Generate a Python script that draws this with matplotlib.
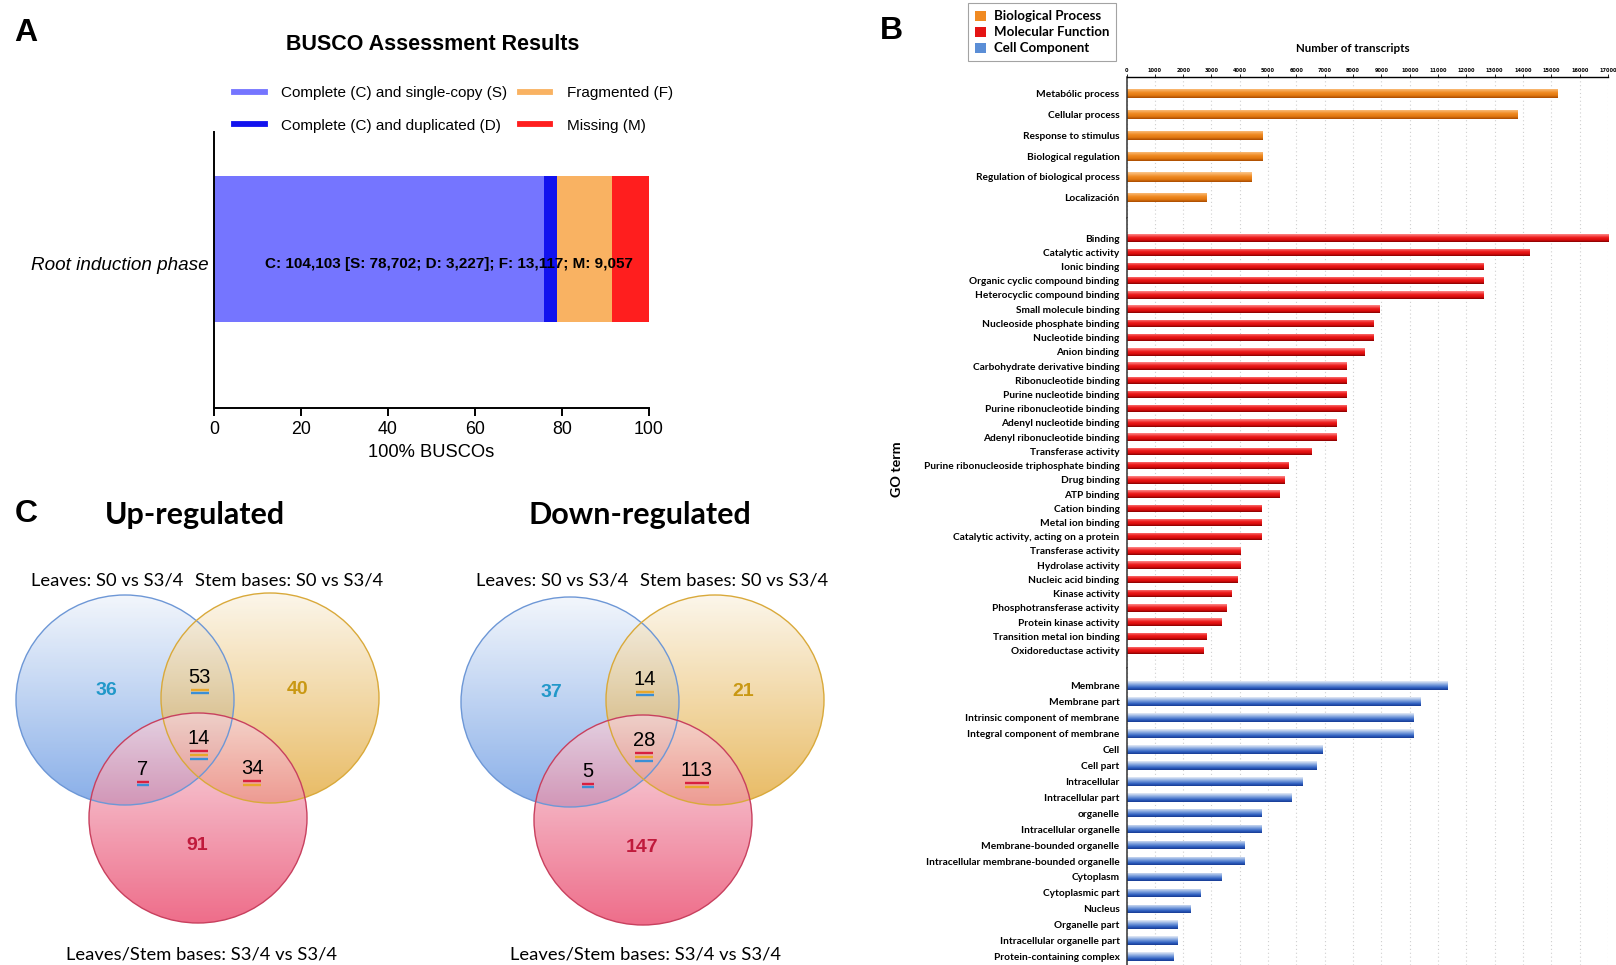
import numpy as np
import matplotlib
matplotlib.use("Agg")
import matplotlib.pyplot as plt
from matplotlib.patches import Ellipse, Patch
from matplotlib.lines import Line2D
from matplotlib import font_manager as fm
from matplotlib.colors import LinearSegmentedColormap, to_rgba

# ------------------------------------------------------------------ data
busco_category = "Root induction phase"
busco_labels = ["Complete (C) and single-copy (S)", "Complete (C) and duplicated (D)",
                "Fragmented (F)", "Missing (M)"]
busco_pct = [75.8, 3.0, 12.7, 8.5]
busco_colors = ["#7575FF", "#1212EE", "#F9B262", "#FF1E1E"]
busco_summary = "C: 104,103 [S: 78,702; D: 3,227]; F: 13,117; M: 9,057"
busco_ticks = [0, 20, 40, 60, 80, 100]

bp_terms = ["Metabólic process", "Cellular process", "Response to stimulus",
            "Biological regulation", "Regulation of biological process", "Localización"]
bp_counts = [15200, 13800, 4800, 4800, 4400, 2800]

mf_terms = ["Binding", "Catalytic activity", "Ionic binding", "Organic cyclic compound binding",
            "Heterocyclic compound binding", "Small molecule binding",
            "Nucleoside phosphate binding", "Nucleotide binding", "Anion binding",
            "Carbohydrate derivative binding", "Ribonucleotide binding",
            "Purine nucleotide binding", "Purine ribonucleotide binding",
            "Adenyl nucleotide binding", "Adenyl ribonucleotide binding", "Transferase activity",
            "Purine ribonucleoside triphosphate binding", "Drug binding", "ATP binding",
            "Cation binding", "Metal ion binding", "Catalytic activity, acting on a protein",
            "Transferase activity", "Hydrolase activity", "Nucleic acid binding",
            "Kinase activity", "Phosphotransferase activity", "Protein kinase activity",
            "Transition metal ion binding", "Oxidoreductase activity"]
mf_counts = [17000, 14200, 12600, 12600, 12600, 8900, 8700, 8700, 8400, 7750, 7750, 7750,
             7750, 7400, 7400, 6500, 5700, 5550, 5400, 4750, 4750, 4750, 4000, 4000, 3900,
             3700, 3500, 3350, 2800, 2700]

cc_terms = ["Membrane", "Membrane part", "Intrinsic component of membrane",
            "Integral component of membrane", "Cell", "Cell part", "Intracellular",
            "Intracellular part", "organelle", "Intracellular organelle",
            "Membrane-bounded organelle", "Intracellular membrane-bounded organelle",
            "Cytoplasm", "Cytoplasmic part", "Nucleus", "Organelle part",
            "Intracellular organelle part", "Protein-containing complex"]
cc_counts = [11300, 10350, 10100, 10100, 6900, 6700, 6200, 5800, 4750, 4750, 4150, 4150,
             3350, 2600, 2250, 1800, 1800, 1650]

go_groups = ["Biological Process", "Molecular Function", "Cell Component"]
go_colors = ["#F08A22", "#E41414", "#5B8ED6"]
go_ticks = list(range(0, 17001, 1000))

venn_titles = ["Up-regulated", "Down-regulated"]
venn_sets = ["Leaves: S0 vs S3/4", "Stem bases: S0 vs S3/4", "Leaves/Stem bases: S3/4 vs S3/4"]
venn_regions = ["L", "S", "B", "LS", "LB", "SB", "LSB"]
up_values = [36, 40, 91, 53, 7, 34, 14]
down_values = [37, 21, 147, 14, 5, 113, 28]

# ------------------------------------------------------------------ fonts
names = {f.name for f in fm.fontManager.ttflist}
def pick(*c):
    for n in c:
        if n in names:
            return n
    return "DejaVu Sans"
ARIAL = pick("Liberation Sans", "Arial")
NARROW = pick("Liberation Sans Narrow", "Liberation Sans")
HUMAN = pick("Lato", "Open Sans")

W, H = 1616, 965
fig = plt.figure(figsize=(W / 100, H / 100), dpi=100)

def rect(l, t, r, b):
    return [l / W, 1 - b / H, (r - l) / W, (b - t) / H]

# ------------------------------------------------------------------ panel A
axA = fig.add_axes(rect(214, 132, 649, 408))
left = 0
for lab, v, c in zip(busco_labels, busco_pct, busco_colors):
    axA.barh(0.576, v, height=0.526, left=left, color=c, label=lab, linewidth=0)
    left += v
axA.set_xlim(0, 100)
axA.set_ylim(0, 1)
axA.set_xticks(busco_ticks)
axA.set_yticks([0.522])
axA.set_yticklabels([busco_category], fontstyle="italic", fontsize=13.6, family=ARIAL)
axA.tick_params(axis="y", length=0, pad=4)
axA.tick_params(axis="x", length=6, width=1.4, labelsize=12.8, pad=3)
for t in axA.get_xticklabels():
    t.set_family(ARIAL)
for s in ["top", "right"]:
    axA.spines[s].set_visible(False)
for s in ["left", "bottom"]:
    axA.spines[s].set_linewidth(1.4)
axA.set_xlabel("100% BUSCOs", fontsize=13.2, family=ARIAL, labelpad=5)
axA.text(53.9, 0.522, busco_summary, ha="center", va="center", fontsize=11,
         fontweight="bold", family=ARIAL)
hA = [Line2D([0], [0], color=c, lw=4.2) for c in busco_colors]
axA.legend(hA, busco_labels, ncol=2, loc="upper left", bbox_to_anchor=(234 / W, 1 - 86 / H),
           bbox_transform=fig.transFigure, frameon=False, borderpad=0, borderaxespad=0,
           handlelength=2.0, handletextpad=1.08, columnspacing=0.82, labelspacing=1.22,
           prop={"family": ARIAL, "size": 11})
fig.text(433 / W, 1 - 44 / H, "BUSCO Assessment Results", ha="center", va="center",
         fontsize=15.5, fontweight="bold", family=ARIAL)

# ------------------------------------------------------------------ panel B
def grad(stops, n=64):
    cmap = LinearSegmentedColormap.from_list("g", stops)
    return cmap(np.linspace(0, 1, n))[:, None, :]

bp_stops = [(0, "#FCC88E"), (0.45, "#F08A22"), (0.75, "#E07710"), (1, "#A84A00")]
mf_stops = [(0, "#FF8A8A"), (0.45, "#EC1A1A"), (0.75, "#D80C0C"), (1, "#820000")]
cc_stops = [(0, "#E6ECF7"), (0.4, "#7FA2DE"), (0.75, "#2E5FC0"), (1, "#163A92")]

xl, xr = 1126.5, 1608
specs = [
    (bp_terms, bp_counts, bp_stops, go_colors[0], 0.44, 0.79, 0.97, 77.3, 218),
    (mf_terms, mf_counts, mf_stops, go_colors[1], 0.52, 1.41, 1.23, 218, 668),
    (cc_terms, cc_counts, cc_stops, go_colors[2], 0.54, 1.10, 0.52, 668, 965),
]
axesB = []
for terms, counts, stops, col, bh, tpad, bpad, top, bot in specs:
    ax = fig.add_axes(rect(xl, top, xr, bot))
    ypos = np.arange(len(terms))
    bars = ax.barh(ypos, counts, height=bh, color=col, linewidth=0)
    img = grad(stops)
    for b in bars:
        x0, y0, w, h = b.get_x(), b.get_y(), b.get_width(), b.get_height()
        im = ax.imshow(img, extent=(x0, x0 + w, y0 + h, y0), origin="upper",
                       aspect="auto", interpolation="bilinear", zorder=2)
        im.set_clip_path(b)
    ax.set_xlim(0, 17000)
    ax.set_ylim(len(terms) - 1 + bpad, -tpad)
    ax.set_yticks(ypos)
    ax.set_yticklabels(terms, fontsize=7.3, fontweight="bold", family=HUMAN)
    ax.tick_params(axis="y", length=0, pad=5)
    ax.set_xticks(go_ticks)
    ax.grid(axis="x", linestyle=(0, (1, 2.5)), color="#CFCFCF", linewidth=0.8)
    ax.set_axisbelow(True)
    for s in ["right", "bottom", "top"]:
        ax.spines[s].set_visible(False)
    ax.spines["left"].set_linewidth(1.1)
    ax.spines["left"].set_color("#333333")
    ax.tick_params(axis="x", bottom=False, labelbottom=False)
    axesB.append(ax)

ax_bp = axesB[0]
ax_bp.spines["top"].set_visible(True)
ax_bp.spines["top"].set_linewidth(1.0)
ax_bp.xaxis.set_ticks_position("top")
ax_bp.xaxis.set_label_position("top")
ax_bp.tick_params(axis="x", top=True, labeltop=True, length=2, width=0.6, labelsize=3.6, pad=1)
for t in ax_bp.get_xticklabels():
    t.set_fontweight("bold")
ax_bp.set_xlabel("Number of transcripts", fontsize=8.3, fontweight="bold", family=HUMAN,
                 labelpad=4)
ax_bp.xaxis.set_label_coords((1353 - xl) / (xr - xl), (218 - 52.5) / (218 - 77.3))
axesB[1].set_ylabel("GO term", fontsize=10.3, fontweight="bold", family=HUMAN)
axesB[1].yaxis.set_label_coords((903 - xl) / (xr - xl), (668 - 469) / (668 - 218))

hB = [Patch(facecolor=c, edgecolor="none") for c in go_colors]
legB = ax_bp.legend(hB, go_groups, loc="upper left", bbox_to_anchor=(968 / W, 1 - 3 / H),
                    bbox_transform=fig.transFigure, fancybox=False, edgecolor="#8C8C8C",
                    borderaxespad=0, borderpad=0.55, handlelength=0.8, handleheight=0.8,
                    handletextpad=0.6, labelspacing=0.3,
                    prop={"family": HUMAN, "size": 9.5, "weight": "bold"})
legB.get_frame().set_linewidth(0.8)

# ------------------------------------------------------------------ overlay (panel labels, panel C)
ov = fig.add_axes([0, 0, 1, 1])
ov.set_xlim(0, W)
ov.set_ylim(H, 0)
ov.axis("off")
ov.patch.set_alpha(0)

for lab, (x, y) in zip(["A", "B", "C"], [(26, 33), (891, 31), (26, 514)]):
    ov.text(x, y, lab, ha="center", va="center", fontsize=23, fontweight="bold", family=ARIAL)

def vgrad(top, bottom, alpha, n=256):
    t = np.linspace(0, 1, n)[:, None]
    c0 = np.array(to_rgba(top)); c1 = np.array(to_rgba(bottom))
    arr = c0 * (1 - t) + c1 * t
    arr[:, 3] = alpha
    return arr[:, None, :]

ell_style = [  # top colour, bottom colour, edge colour
    ("#EEF3FB", "#5A8FE0", "#6D97D6"),
    ("#FBF3E3", "#E0A026", "#D9A93A"),
    ("#F6D3DC", "#E8345C", "#C8405E"),
]
offsets = [(0, 0), (145, -2), (73, 118)]
rx, ry = 109, 105
label_off = {"L": (-18.5, -9.5), "LS": (74.5, -22.5), "S": (173, -11), "LSB": (74, 39),
             "LB": (18, 69.5), "SB": (127, 69), "B": (72, 146)}
solo_col = {"L": "#2198C9", "S": "#C99813", "B": "#C01A3C"}
under = {"LS": ["#E8A72A", "#3A8FD6"], "LSB": ["#D8203F", "#E8A72A", "#3A8FD6"],
         "LB": ["#D8203F", "#3A8FD6"], "SB": ["#D8203F", "#E8A72A"]}
origins = [(125, 700), (570, 702)]

for title, values, (ox, oy) in zip(venn_titles, [up_values, down_values], origins):
    for i, ((dx, dy), (ct, cb, ce)) in enumerate(zip(offsets, ell_style)):
        cx, cy = ox + dx, oy + dy
        clip = Ellipse((cx, cy), 2 * rx, 2 * ry, facecolor="none", edgecolor="none")
        ov.add_patch(clip)
        im = ov.imshow(vgrad(ct, cb, 0.72), extent=(cx - rx, cx + rx, cy + ry, cy - ry),
                       origin="upper", aspect="auto", interpolation="bilinear", zorder=1 + i)
        im.set_clip_path(clip)
        ov.add_patch(Ellipse((cx, cy), 2 * rx, 2 * ry, facecolor="none", edgecolor=ce,
                             lw=1.0, zorder=6))
    for reg, v in zip(venn_regions, values):
        lx, ly = ox + label_off[reg][0], oy + label_off[reg][1]
        if reg in solo_col:
            ov.text(lx, ly, str(v), ha="center", va="center", fontsize=14, fontweight="bold",
                    color=solo_col[reg], family=NARROW, zorder=8)
        else:
            ov.text(lx, ly, str(v), ha="center", va="center", fontsize=14.5,
                    color="black", family=NARROW, zorder=8)
            w = 5.5 * len(str(v)) + 7
            for k, c in enumerate(under[reg]):
                yy = ly + 12 + 3.8 * k
                ov.plot([lx - w / 2, lx + w / 2], [yy, yy], color=c, lw=1.7,
                        solid_capstyle="butt", zorder=8)
    ov.text(ox + 70, 515, title, ha="center", va="center", fontsize=22, fontweight="bold",
            family=HUMAN)
    ov.text(ox - 18, 581, venn_sets[0], ha="center", va="center", fontsize=13.2, family=HUMAN)
    ov.text(ox + 164, 581, venn_sets[1], ha="center", va="center", fontsize=13.2, family=HUMAN)
    ov.text(ox + 76, 954, venn_sets[2], ha="center", va="center", fontsize=13.2, family=HUMAN)

fig.savefig("out.png", dpi=100)
